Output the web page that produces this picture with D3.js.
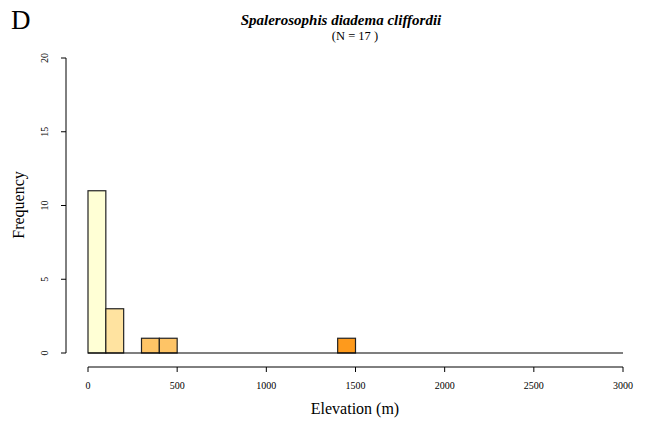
<!DOCTYPE html>
<html><head><meta charset="utf-8">
<script src="https://cdn.jsdelivr.net/npm/d3@7"></script>
<style>body{margin:0;background:#fff}svg{display:block}</style>
</head><body><svg id="c" width="645" height="421" font-family="'Liberation Serif', 'Times New Roman', Times, serif"></svg>
<script>
const binStarts = [0, 100, 300, 400, 1400];
const binCounts = [11, 3, 1, 1, 1];
const binColors = ["#FFFFD5", "#FFE3A0", "#FEC466", "#FE9A1C"];
const binColorIndex = [0, 1, 2, 2, 3];
const binWidth = 100;
const xTicks = [0, 500, 1000, 1500, 2000, 2500, 3000];
const yTicks = [0, 5, 10, 15, 20];
const title = "Spalerosophis diadema cliffordii";
const subtitle = "(N = 17 )";

const svg = d3.select("#c");
const x = d3.scaleLinear().domain([0, 3000]).range([88, 623]);
const y = d3.scaleLinear().domain([0, 20]).range([353, 58]);

svg.append("text").attr("x", 11).attr("y", 29).attr("font-size", 27).text("D");
svg.append("text").attr("x", 341).attr("y", 25).attr("text-anchor", "middle")
  .attr("font-size", 15).attr("font-weight", "bold").attr("font-style", "italic").text(title);
svg.append("text").attr("x", 355).attr("y", 40).attr("text-anchor", "middle")
  .attr("font-size", 12.5).text(subtitle);

// y axis
const ya = svg.append("g");
ya.append("line").attr("x1", 66).attr("x2", 66).attr("y1", y(0)).attr("y2", y(20)).attr("stroke", "#000");
yTicks.forEach(t => {
  ya.append("line").attr("x1", 61).attr("x2", 66).attr("y1", y(t)).attr("y2", y(t)).attr("stroke", "#000");
  ya.append("text").attr("transform", `translate(48,${y(t)}) rotate(-90)`).attr("text-anchor", "middle")
    .attr("font-size", 10).text(t);
});
svg.append("text").attr("transform", `translate(24,205) rotate(-90)`).attr("text-anchor", "middle")
  .attr("font-size", 16).text("Frequency");

// x axis
const xa = svg.append("g");
xa.append("line").attr("x1", x(0)).attr("x2", x(3000)).attr("y1", 367).attr("y2", 367).attr("stroke", "#000");
xTicks.forEach(t => {
  xa.append("line").attr("x1", x(t)).attr("x2", x(t)).attr("y1", 367).attr("y2", 372).attr("stroke", "#000");
  xa.append("text").attr("x", x(t)).attr("y", 389).attr("text-anchor", "middle").attr("font-size", 10).text(t);
});
svg.append("text").attr("x", 355).attr("y", 414).attr("text-anchor", "middle").attr("font-size", 16).text("Elevation (m)");

// bars
svg.append("g").selectAll("rect").data(binStarts).join("rect")
  .attr("x", d => x(d))
  .attr("width", d => x(d + binWidth) - x(d))
  .attr("y", (d, i) => y(binCounts[i]))
  .attr("height", (d, i) => y(0) - y(binCounts[i]))
  .attr("fill", (d, i) => binColors[binColorIndex[i]])
  .attr("stroke", "#222").attr("stroke-width", 1.2);

// baseline
svg.append("line").attr("x1", x(0)).attr("x2", x(3000)).attr("y1", y(0)).attr("y2", y(0))
  .attr("stroke", "#000").attr("stroke-width", 1.2);
</script></body></html>
